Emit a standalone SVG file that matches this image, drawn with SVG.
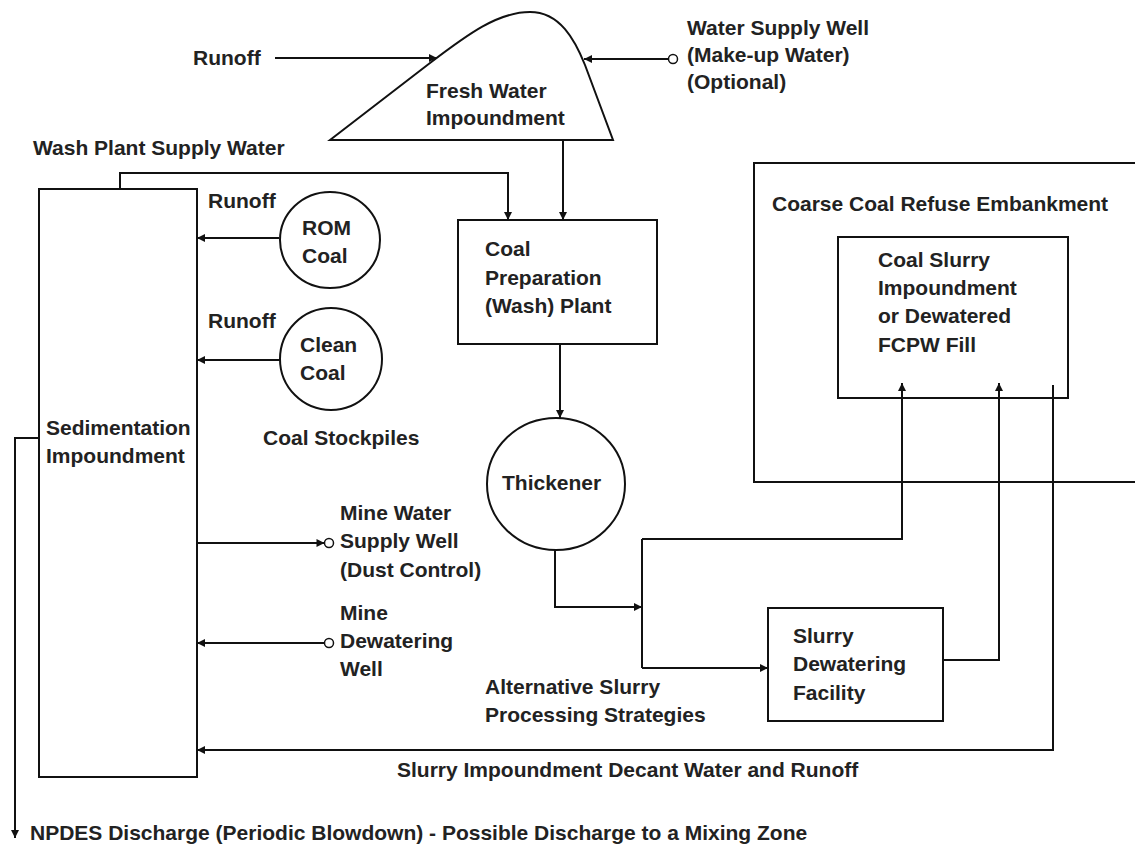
<svg xmlns="http://www.w3.org/2000/svg" width="1135" height="847" viewBox="0 0 1135 847">
<style>
text{font-family:"Liberation Sans",Arial,sans-serif;font-size:21px;font-weight:bold;fill:#222}
.shape{fill:none;stroke:#111;stroke-width:2}
.conn{fill:none;stroke:#111;stroke-width:2}
.well{fill:#fff;stroke:#111;stroke-width:1.5}
</style>
<defs>
<marker id="ah" markerUnits="userSpaceOnUse" markerWidth="10" markerHeight="10" viewBox="0 0 10 10" refX="9" refY="5" orient="auto">
<path d="M1,1 L9,5 L1,9 z" fill="#111"/>
</marker>
</defs>
<rect width="1135" height="847" fill="#fff"/>

<g id="fresh-water">
<path class="shape" d="M330,140 L430,63 C468,34 498,12 530,12 C560,12 575,40 585,65 L613,140 Z"/>
<text x="426" y="98">Fresh Water</text>
<text x="426" y="125">Impoundment</text>
</g>
<g id="runoff-top"><text x="193" y="65">Runoff</text></g>
<g id="water-supply-well">
<circle class="well" cx="673" cy="59" r="4.5"/>
<text x="687" y="35">Water Supply Well</text>
<text x="687" y="62">(Make-up Water)</text>
<text x="687" y="89">(Optional)</text>
</g>
<g id="wash-plant-label"><text x="33" y="155">Wash Plant Supply Water</text></g>
<g id="sedimentation">
<rect class="shape" x="39" y="189" width="158" height="588"/>
<text x="46" y="435">Sedimentation</text>
<text x="46" y="463">Impoundment</text>
</g>
<g id="rom-coal">
<ellipse class="shape" cx="330" cy="240" rx="50" ry="48"/>
<text x="302" y="235">ROM</text>
<text x="302" y="263">Coal</text>
<text x="208" y="208">Runoff</text>
</g>
<g id="clean-coal">
<ellipse class="shape" cx="331" cy="359" rx="51" ry="51"/>
<text x="300" y="352">Clean</text>
<text x="300" y="380">Coal</text>
<text x="208" y="328">Runoff</text>
</g>
<g id="stockpiles-label"><text x="263" y="445">Coal Stockpiles</text></g>
<g id="coal-prep">
<rect class="shape" x="458" y="220" width="199" height="124"/>
<text x="485" y="256">Coal</text>
<text x="485" y="285">Preparation</text>
<text x="485" y="313">(Wash) Plant</text>
</g>
<g id="thickener">
<ellipse class="shape" cx="556" cy="484" rx="69" ry="66"/>
<text x="502" y="490">Thickener</text>
</g>
<g id="coarse-refuse">
<path class="shape" d="M1136,163 L754,163 L754,482 L1136,482"/>
<text x="772" y="211">Coarse Coal Refuse Embankment</text>
</g>
<g id="slurry-impoundment">
<rect class="shape" x="838" y="237" width="230" height="161"/>
<text x="878" y="267">Coal Slurry</text>
<text x="878" y="295">Impoundment</text>
<text x="878" y="323">or Dewatered</text>
<text x="878" y="352">FCPW Fill</text>
</g>
<g id="mine-water-supply">
<circle class="well" cx="329" cy="543" r="4.5"/>
<text x="340" y="520">Mine Water</text>
<text x="340" y="548">Supply Well</text>
<text x="340" y="577">(Dust Control)</text>
</g>
<g id="mine-dewatering">
<circle class="well" cx="329" cy="643" r="4.5"/>
<text x="340" y="620">Mine</text>
<text x="340" y="648">Dewatering</text>
<text x="340" y="676">Well</text>
</g>
<g id="alt-label">
<text x="485" y="694">Alternative Slurry</text>
<text x="485" y="722">Processing Strategies</text>
</g>
<g id="slurry-dewatering">
<rect class="shape" x="768" y="608" width="175" height="113"/>
<text x="793" y="643">Slurry</text>
<text x="793" y="671">Dewatering</text>
<text x="793" y="700">Facility</text>
</g>
<g id="decant-label"><text x="397" y="777">Slurry Impoundment Decant Water and Runoff</text></g>
<g id="npdes-label"><text x="30" y="840">NPDES Discharge (Periodic Blowdown) - Possible Discharge to a Mixing Zone</text></g>

<g id="connectors">
<path class="conn" d="M275,58 L437,58" marker-end="url(#ah)"/>
<path class="conn" d="M668.5,59 L584,59" marker-end="url(#ah)"/>
<path class="conn" d="M563,140 L563,220" marker-end="url(#ah)"/>
<path class="conn" d="M120,189 L120,173 L508,173 L508,220" marker-end="url(#ah)"/>
<path class="conn" d="M279,238 L197,238" marker-end="url(#ah)"/>
<path class="conn" d="M280,360 L197,360" marker-end="url(#ah)"/>
<path class="conn" d="M560,344 L560,418" marker-end="url(#ah)"/>
<path class="conn" d="M555,550 L555,607 L642,607" marker-end="url(#ah)"/>
<path class="conn" d="M642,539 L642,668"/>
<path class="conn" d="M642,539 L902,539 L902,383" marker-end="url(#ah)"/>
<path class="conn" d="M642,668 L768,668" marker-end="url(#ah)"/>
<path class="conn" d="M943,660 L999,660 L999,383" marker-end="url(#ah)"/>
<path class="conn" d="M1053,385 L1053,750 L197,750" marker-end="url(#ah)"/>
<path class="conn" d="M197,543 L324.5,543" marker-end="url(#ah)"/>
<path class="conn" d="M324.5,643 L197,643" marker-end="url(#ah)"/>
<path class="conn" d="M39,438 L15,438 L15,838" marker-end="url(#ah)"/>
</g>
</svg>
